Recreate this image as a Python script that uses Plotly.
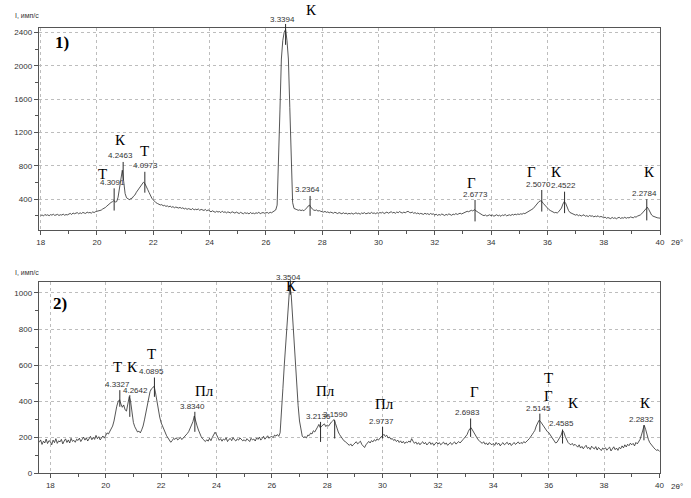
import numpy as np
import plotly.graph_objects as go

# ---------------- DATA ----------------
# Panel 1: 2theta from 18.00 to 40.00, step 0.05
p1_start, step = 18.0, 0.05
p1_intensity = [
    205,212,200,218,208,214,203,216,210,221,207,213,219,206,215,211,222,209,217,213,   # 18
    224,231,218,236,227,233,240,226,238,229,243,235,231,246,238,242,234,249,241,252,   # 19
    255,262,258,270,283,291,302,318,336,348,362,371,384,368,372,425,528,655,748,610,   # 20
    468,418,402,396,408,413,438,452,484,506,542,561,583,604,590,562,518,482,443,412,   # 21
    392,371,358,349,341,332,336,322,327,315,321,309,318,304,312,298,307,301,295,303,   # 22
    291,298,284,292,279,288,283,276,290,272,281,275,284,268,279,271,266,278,262,273,   # 23
    258,249,262,251,244,256,247,253,240,258,243,250,237,249,245,236,251,241,234,247,   # 24
    238,229,243,233,226,240,231,236,224,242,229,235,227,238,232,244,228,236,241,233,   # 25
    236,242,231,245,238,251,258,272,330,800,1470,2080,2300,2400,2435,2300,2080,1500,800,360,  # 26
    290,278,276,268,273,265,271,262,275,296,318,330,302,281,270,266,272,259,264,256,   # 27
    252,246,255,243,249,238,246,241,233,245,237,229,241,232,226,239,228,234,223,231,   # 28
    226,234,222,230,238,227,233,221,236,229,240,226,232,237,228,243,231,236,227,239,   # 29
    232,241,236,245,229,238,247,233,242,251,237,244,232,248,239,253,241,236,246,238,   # 30
    249,256,243,238,247,232,240,228,236,223,231,226,219,233,222,228,216,230,220,225,   # 31
    212,221,207,218,210,224,213,206,219,211,225,214,208,222,216,229,218,226,233,224,   # 32
    231,238,243,256,251,263,268,259,276,265,258,242,231,218,210,204,212,199,207,214,   # 33
    203,211,197,208,215,201,209,196,213,205,218,202,210,214,206,219,211,222,215,224,   # 34
    218,226,221,232,228,237,243,251,262,279,290,310,335,358,372,381,376,352,330,310,   # 35
    291,278,266,255,248,239,242,236,251,268,295,343,372,351,303,266,242,233,226,219,   # 36
    210,218,203,212,199,207,214,196,204,192,206,197,201,189,198,192,203,186,195,188,   # 37
    178,186,172,181,175,168,183,171,179,166,177,184,170,179,174,185,172,181,176,188,   # 38
    183,178,191,186,198,203,212,226,245,272,296,305,278,240,212,198,190,184,179,176,   # 39
    174,                                                                                 # 40
]

# Panel 2: 2theta from 17.60 to 40.00, step 0.05
p2_start = 17.6
p2_intensity = [
    172,185,160,178,168,190,165,181,                                                     # 17.6
    176,158,184,170,192,166,180,174,188,163,179,191,171,185,168,194,177,183,172,189,   # 18
    182,195,176,190,201,184,197,179,193,205,186,199,188,210,192,203,185,198,207,195,   # 19
    212,224,218,231,245,262,290,335,372,398,408,384,366,379,352,345,392,425,398,322,   # 20
    282,258,243,229,234,224,241,262,296,338,385,428,452,468,474,482,446,398,352,312,   # 21
    281,262,238,221,208,196,186,172,181,193,188,197,185,192,199,187,195,203,209,221,   # 22
    232,248,268,286,318,284,263,240,219,203,191,184,176,186,178,194,181,199,212,228,   # 23
    215,196,183,192,178,190,184,197,176,188,193,181,198,186,179,191,184,196,188,180,   # 24
    186,178,192,183,176,194,185,190,179,196,188,201,184,193,205,189,197,208,194,202,   # 25
    204,198,212,206,215,205,225,330,470,600,720,860,980,1045,990,860,770,620,490,375,  # 26
    290,235,205,199,203,196,212,209,223,218,236,229,248,256,271,252,262,268,274,259,   # 27
    268,262,276,284,291,298,276,250,229,214,201,190,181,176,168,161,155,163,151,160,   # 28
    168,175,163,171,178,160,152,143,158,170,177,168,181,174,186,179,191,184,196,203,   # 29
    208,216,204,211,196,201,189,193,182,188,176,184,171,180,168,177,165,174,170,179,   # 30
    172,192,178,166,174,161,170,158,168,175,163,171,157,166,174,160,169,155,167,173,   # 31
    162,170,158,166,173,161,168,155,164,171,159,167,174,162,170,176,168,181,186,195,   # 32
    202,214,233,247,252,238,226,212,198,186,179,172,166,175,161,168,157,170,163,158,   # 33
    166,155,171,160,167,152,163,170,158,165,172,159,168,154,164,171,160,167,174,163,   # 34
    171,165,176,169,180,184,192,201,214,226,238,262,281,294,288,276,262,251,243,231,   # 35
    226,214,203,190,178,168,172,185,198,212,238,226,203,182,171,163,158,166,154,161,   # 36
    152,145,158,140,149,136,147,155,138,144,132,150,141,135,148,129,143,137,126,140,   # 37
    133,142,128,138,145,124,136,147,131,140,127,144,136,152,141,158,146,161,153,167,   # 38
    158,166,152,171,163,176,188,212,245,266,244,212,188,170,158,149,141,133,127,131,   # 39
    121,                                                                                 # 40
]

# Peak markers (2theta, d-spacing, stick top / bottom intensity)
p1_peak_2t = [20.61, 20.93, 21.70, 26.70, 27.57, 33.43, 35.80, 36.61, 39.53]
p1_peak_d = ["4.3091", "4.2463", "4.0973", "3.3394", "3.2364", "2.6773", "2.5070", "2.4522", "2.2784"]
p1_stick_top = [531, 847, 729, 2500, 440, 392, 511, 491, 400]
p1_stick_bot = [265, 630, 479, 2250, 202, 135, 253, 234, 147]
p1_label_2t = [20.55, 20.85, 21.71, 26.60, 27.47, 33.43, 35.70, 36.56, 39.46]
p1_label_i = [598, 927, 800, 2550, 519, 459, 578, 562, 471]

p2_peak_2t = [20.51, 20.87, 21.76, 23.22, 26.67, 27.76, 28.27, 30.00, 33.18, 35.68, 36.50, 39.44]
p2_peak_d = ["4.3327", "4.2642", "4.0895", "3.8340", "3.3504", "3.2136", "3.1590", "2.9737",
             "2.6983", "2.5145", "2.4585", "2.2832"]
p2_stick_top = [461, 433, 531, 341, 1070, 285, 294, 257, 304, 331, 243, 267]
p2_stick_bot = [369, 313, 424, 230, 990, 174, 193, 193, 202, 230, 165, 183]
p2_label_2t = [20.43, 21.07, 21.67, 23.14, 26.59, 27.70, 28.30, 29.96, 33.08, 35.62, 36.46, 39.36]
p2_label_i = [494, 457, 563, 372, 1087, 317, 328, 285, 337, 361, 276, 298]

# Phase letters
p1_phase = ["Т", "К", "Т", "К", "Г", "Г", "К", "К"]
p1_phase_2t = [20.19, 20.85, 21.70, 27.61, 33.31, 35.45, 36.32, 39.62]
p1_phase_i = [701, 1113, 974, 2669, 590, 721, 721, 721]

p2_phase = ["Т", "К", "Т", "Пл", "К", "Пл", "Пл", "Г", "Т", "Г", "К", "К"]
p2_phase_2t = [20.41, 20.98, 21.67, 23.57, 26.71, 27.94, 30.06, 33.32, 35.98, 35.98, 36.88, 39.48]
p2_phase_i = [591, 591, 661, 456, 1039, 456, 387, 452, 530, 430, 391, 391]

# ---------------- LAYOUT CONSTANTS ----------------
FW, FH = 691, 498


def fx(xp):
    return xp / FW


def fy(yp):
    return 1 - yp / FH


XDOM = [fx(38.7), fx(660)]
P1 = dict(xr=[17.93, 40.0], yr=[32, 2448], ydom=[fy(230), fy(28.3)])
P2 = dict(xr=[17.58, 40.02], yr=[0, 1059], ydom=[fy(473.3), fy(282.3)])

LINE = "#2b2b2b"
SANS = "Liberation Sans Narrow, Liberation Sans, Arial, sans-serif"
SERIF = "Liberation Serif, Times New Roman, serif"


def to_paper(x, y, p):
    px = XDOM[0] + (x - p["xr"][0]) / (p["xr"][1] - p["xr"][0]) * (XDOM[1] - XDOM[0])
    py = p["ydom"][0] + (y - p["yr"][0]) / (p["yr"][1] - p["yr"][0]) * (p["ydom"][1] - p["ydom"][0])
    return px, py


x1 = np.round(p1_start + step * np.arange(len(p1_intensity)), 2)
x2 = np.round(p2_start + step * np.arange(len(p2_intensity)), 2)

fig = go.Figure()
fig.add_trace(go.Scatter(x=x1, y=p1_intensity, mode="lines", line=dict(color=LINE, width=0.8),
                         xaxis="x", yaxis="y", showlegend=False, hoverinfo="skip"))
fig.add_trace(go.Scatter(x=x2, y=p2_intensity, mode="lines", line=dict(color=LINE, width=0.8),
                         xaxis="x2", yaxis="y2", showlegend=False, hoverinfo="skip"))

shapes = []
for xs, tops, bots, p in [(p1_peak_2t, p1_stick_top, p1_stick_bot, P1),
                          (p2_peak_2t, p2_stick_top, p2_stick_bot, P2)]:
    for x, t, b in zip(xs, tops, bots):
        x0p, y0p = to_paper(x, b, p)
        _, y1p = to_paper(x, t, p)
        shapes.append(dict(type="line", xref="paper", yref="paper", x0=x0p, x1=x0p, y0=y0p, y1=y1p,
                           line=dict(color=LINE, width=1)))

annotations = []


def add_text(x, y, p, text, size, family, color="#111"):
    px, py = to_paper(x, y, p)
    annotations.append(dict(x=px, y=py, xref="paper", yref="paper", text=text, showarrow=False,
                            xanchor="center", yanchor="middle",
                            font=dict(size=size, family=family, color=color)))


for d, x, y in zip(p1_peak_d, p1_label_2t, p1_label_i):
    add_text(x, y, P1, d, 8, SANS, "#333")
for d, x, y in zip(p2_peak_d, p2_label_2t, p2_label_i):
    add_text(x, y, P2, d, 8, SANS, "#333")
for t, x, y in zip(p1_phase, p1_phase_2t, p1_phase_i):
    add_text(x, y, P1, t, 15, SERIF, "#000")
for t, x, y in zip(p2_phase, p2_phase_2t, p2_phase_i):
    add_text(x, y, P2, t, 15, SERIF, "#000")


def pix(text, xp, yp, size, family, color="#111"):
    annotations.append(dict(x=fx(xp), y=fy(yp), xref="paper", yref="paper", text=text,
                            showarrow=False, xanchor="center", yanchor="middle",
                            font=dict(size=size, family=family, color=color)))


pix("<b>1)</b>", 62, 43, 17, SERIF, "#000")
pix("<b>2)</b>", 60, 303, 17, SERIF, "#000")
pix("I, имп/с", 27, 16, 7, SANS, "#333")
pix("I, имп/с", 27, 272, 7, SANS, "#333")
pix("2θ°", 677, 242, 8, SANS, "#333")
pix("2θ°", 677, 486, 8, SANS, "#333")

axis_common = dict(showline=True, linecolor="#555", linewidth=1, mirror=True,
                   ticks="outside", ticklen=4, tickcolor="#555", automargin=False,
                   showgrid=True, gridcolor="#bdbdbd", griddash="dot", gridwidth=1,
                   zeroline=False, tickfont=dict(size=8, family=SANS, color="#333"))

fig.update_layout(
    width=FW, height=FH, margin=dict(l=0, r=0, t=0, b=0, pad=0, autoexpand=False),
    paper_bgcolor="white", plot_bgcolor="white", hovermode=False,
    xaxis=dict(domain=XDOM, range=P1["xr"], anchor="y", dtick=2, tick0=0,
               minor=dict(dtick=1, ticks="outside", ticklen=3, tickcolor="#555", showgrid=False),
               **axis_common),
    yaxis=dict(domain=P1["ydom"], range=P1["yr"], anchor="x", dtick=400, tick0=0,
               minor=dict(dtick=200, ticks="outside", ticklen=3, tickcolor="#555", showgrid=False),
               **axis_common),
    xaxis2=dict(domain=XDOM, range=P2["xr"], anchor="y2", dtick=2, tick0=0,
                minor=dict(dtick=1, ticks="outside", ticklen=3, tickcolor="#555", showgrid=False),
                **axis_common),
    yaxis2=dict(domain=P2["ydom"], range=P2["yr"], anchor="x2", dtick=200, tick0=0,
                minor=dict(dtick=100, ticks="outside", ticklen=3, tickcolor="#555", showgrid=False),
                **axis_common),
    shapes=shapes,
    annotations=annotations,
)

# remove the default 8px page margin so the figure sits at the window's corner
fig.write_html("out.html", config={"displayModeBar": False},
               post_script="document.body.style.margin='0';document.body.style.overflow='hidden';")
